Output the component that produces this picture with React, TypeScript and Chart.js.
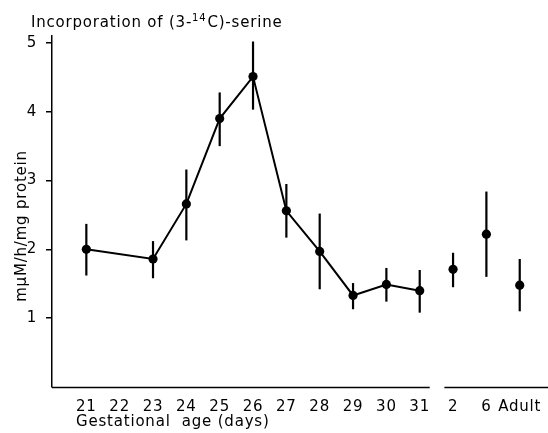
import React, { useEffect, useRef } from "react";
import { Chart, registerables } from "chart.js";

Chart.register(...registerables);

// ---- data ----
const categories = ["21", "22", "23", "24", "25", "26", "27", "28", "29", "30", "31", "2", "6", "Adult"];
const meanValues: (number | null)[] = [2.0, null, 1.86, 2.66, 3.9, 4.51, 2.56, 1.97, 1.33, 1.49, 1.4, 1.71, 2.22, 1.48];
const upperValues: (number | null)[] = [2.37, null, 2.12, 3.16, 4.28, 5.02, 2.95, 2.52, 1.51, 1.73, 1.7, 1.95, 2.84, 1.86];
const lowerValues: (number | null)[] = [1.62, null, 1.58, 2.13, 3.5, 4.03, 2.17, 1.42, 1.13, 1.24, 1.08, 1.45, 1.6, 1.1];
const fetalCount = 11; // 21..31 are joined by a line
const yTickValues = [1, 2, 3, 4, 5];

const titleStart = "Incorporation of (3-";
const titleSup = "14";
const titleEnd = "C)-serine";
const xTitle = "Gestational  age (days)";
const yTitle = "m\u03bcM/h/mg protein";

const FONT = '"DejaVu Sans", sans-serif';
const SPACING = "0.8px";

type P = { x: number; y: number; hi: number; lo: number };

function buildPoints(from: number, to: number): P[] {
  const out: P[] = [];
  for (let i = from; i < to; i++) {
    const v = meanValues[i];
    if (v === null) continue;
    out.push({ x: i, y: v, hi: upperValues[i] as number, lo: lowerValues[i] as number });
  }
  return out;
}

const decorPlugin = {
  id: "decor",
  beforeDraw(chart: any) {
    chart.ctx.letterSpacing = SPACING;
  },
  afterDatasetsDraw(chart: any) {
    const ctx = chart.ctx;
    const ys = chart.scales.y;
    ctx.save();
    ctx.strokeStyle = "#000";
    ctx.lineWidth = 2.2;
    chart.data.datasets.forEach((ds: any, di: number) => {
      const meta = chart.getDatasetMeta(di);
      ds.data.forEach((p: P, j: number) => {
        const el = meta.data[j];
        ctx.beginPath();
        ctx.moveTo(el.x, ys.getPixelForValue(p.hi));
        ctx.lineTo(el.x, ys.getPixelForValue(p.lo));
        ctx.stroke();
      });
    });
    ctx.restore();
  },
  afterDraw(chart: any) {
    const ctx = chart.ctx;
    const xs = chart.scales.x;
    const ys = chart.scales.y;
    const area = chart.chartArea;
    ctx.save();
    ctx.letterSpacing = SPACING;
    // broken x axis
    const y0 = Math.round(ys.getPixelForValue(0)) + 0.5;
    ctx.strokeStyle = "#000";
    ctx.lineWidth = 1.5;
    ctx.beginPath();
    ctx.moveTo(area.left, y0);
    ctx.lineTo(xs.getPixelForValue(10.3), y0);
    ctx.moveTo(xs.getPixelForValue(10.74), y0);
    ctx.lineTo(chart.width, y0);
    ctx.stroke();

    ctx.fillStyle = "#000";
    ctx.textBaseline = "alphabetic";
    ctx.textAlign = "left";
    // title with superscript
    ctx.font = `15px ${FONT}`;
    let x = 31;
    ctx.fillText(titleStart, x, 27);
    x += ctx.measureText(titleStart).width;
    ctx.font = `10px ${FONT}`;
    ctx.fillText(titleSup, x, 21);
    x += ctx.measureText(titleSup).width + 1;
    ctx.font = `15px ${FONT}`;
    ctx.fillText(titleEnd, x, 27);

    // x title
    ctx.fillText(xTitle, 76, 426);

    // y title
    ctx.translate(26, 226);
    ctx.rotate(-Math.PI / 2);
    ctx.textAlign = "center";
    ctx.fillText(yTitle, 0, 0);
    ctx.restore();
  },
};

export default function App() {
  const ref = useRef<HTMLCanvasElement>(null);
  useEffect(() => {
    document.body.style.margin = "0";
    const canvas = ref.current!;
    const chart = new Chart(canvas, {
      type: "scatter",
      data: {
        datasets: [
          {
            data: buildPoints(0, fetalCount),
            showLine: true,
            borderColor: "#000",
            backgroundColor: "#000",
            borderWidth: 2,
            pointRadius: 4.6,
            pointBorderWidth: 0,
          },
          {
            data: buildPoints(fetalCount, categories.length),
            showLine: false,
            borderColor: "#000",
            backgroundColor: "#000",
            pointRadius: 4.6,
            pointBorderWidth: 0,
          },
        ],
      },
      options: {
        animation: false,
        responsive: false,
        layout: { padding: { top: 36, left: 0, right: 0, bottom: 0 } },
        plugins: { legend: { display: false }, tooltip: { enabled: false }, title: { display: false } },
        scales: {
          x: {
            type: "linear",
            min: -1.03,
            max: 13.71,
            grid: { display: false, drawTicks: false },
            border: { display: false },
            afterBuildTicks: (s: any) => {
              s.ticks = categories.map((_, i) => ({ value: i }));
            },
            afterFit: (s: any) => {
              s.height = 46;
              s.paddingLeft = 0;
              s.paddingRight = 0;
            },
            ticks: {
              autoSkip: false,
              maxRotation: 0,
              padding: 11,
              color: "#000",
              font: { family: FONT, size: 15 },
              callback: (v: any) => categories[v as number] ?? "",
            },
          },
          y: {
            min: 0,
            max: 5.1,
            grid: { drawOnChartArea: false, drawTicks: true, tickLength: 6, color: "#000", lineWidth: 1.5 },
            border: { display: true, color: "#000", width: 1.5 },
            afterBuildTicks: (s: any) => {
              s.ticks = yTickValues.map((v) => ({ value: v }));
            },
            afterFit: (s: any) => {
              s.width = 52;
              s.paddingTop = 0;
              s.paddingBottom = 0;
            },
            ticks: {
              padding: 9,
              color: "#000",
              font: { family: FONT, size: 15 },
              callback: (v: any) => String(v),
            },
          },
        },
      },
      plugins: [decorPlugin],
    });
    return () => chart.destroy();
  }, []);
  return (
    <div style={{ width: 548, height: 433, position: "relative" }}>
      <canvas ref={ref} width={548} height={433} style={{ display: "block" }} />
    </div>
  );
}
